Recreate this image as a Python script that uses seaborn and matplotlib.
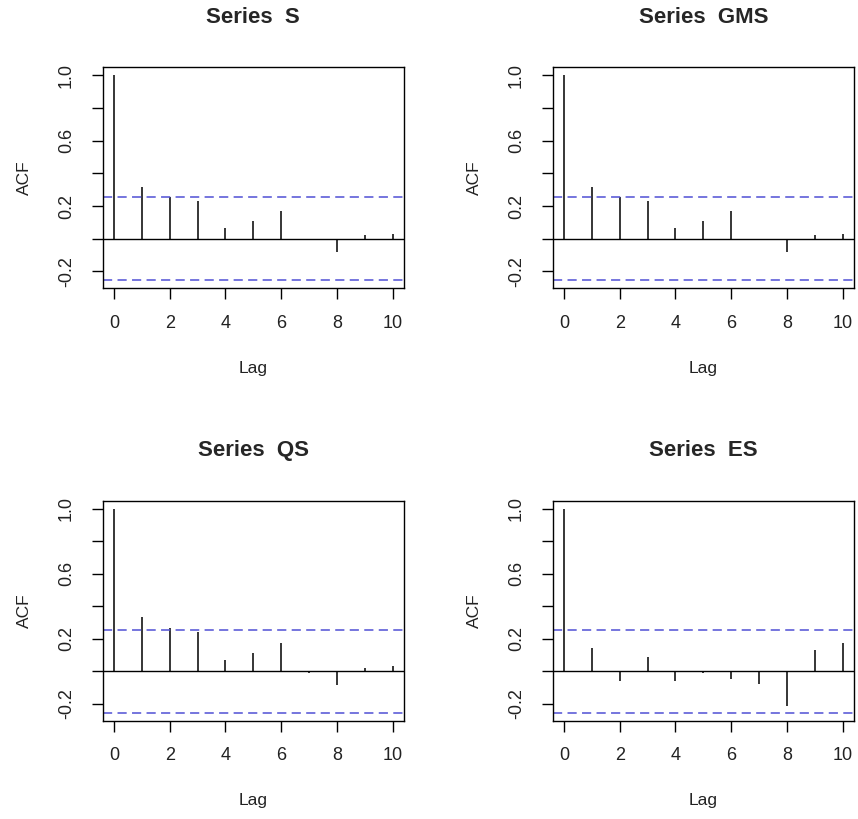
import numpy as np
import pandas as pd
import matplotlib
matplotlib.use("Agg")
import matplotlib.pyplot as plt
import seaborn as sns

# ---- data ----
lags = [0, 1, 2, 3, 4, 5, 6, 7, 8, 9, 10]
acf_S = [1.0, 0.320, 0.258, 0.233, 0.067, 0.110, 0.170, -0.008, -0.079, 0.022, 0.030]
acf_GMS = [1.0, 0.320, 0.258, 0.233, 0.067, 0.110, 0.170, -0.008, -0.079, 0.022, 0.030]
acf_QS = [1.0, 0.335, 0.268, 0.242, 0.073, 0.114, 0.177, -0.010, -0.081, 0.018, 0.035]
acf_ES = [1.0, 0.142, -0.057, 0.089, -0.057, -0.010, -0.049, -0.079, -0.215, 0.130, 0.177]
series_names = ["S", "GMS", "QS", "ES"]
conf_limit = 0.253
xticks = [0, 2, 4, 6, 8, 10]
yticks = [-0.2, 0.0, 0.2, 0.4, 0.6, 0.8, 1.0]
ytick_labels = ["-0.2", "", "0.2", "", "0.6", "", "1.0"]

series_values = {"S": acf_S, "GMS": acf_GMS, "QS": acf_QS, "ES": acf_ES}

sns.set_theme(style="white")
plt.rcParams["font.family"] = ["Liberation Sans", "DejaVu Sans"]

fig = plt.figure(figsize=(8.58, 8.19), dpi=100)
W, H = 858.0, 819.0
# (left, top, right, bottom) in pixels
boxes = {
    "S": (102.7, 67.3, 404.0, 288.3),
    "GMS": (552.7, 67.3, 854.0, 288.3),
    "QS": (102.7, 500.7, 404.0, 720.7),
    "ES": (552.7, 500.7, 854.0, 720.7),
}

blue = "#5050d4"
for name in series_names:
    l, t, r, b = boxes[name]
    ax = fig.add_axes([l / W, 1 - b / H, (r - l) / W, (b - t) / H])
    df = pd.DataFrame({"Lag": lags, "ACF": series_values[name]})
    ax.vlines(df["Lag"], 0, df["ACF"], color="black", lw=1.1)
    ax.axhline(0, color="black", lw=1.0)
    ax.axhline(conf_limit, color=blue, lw=1.1, ls=(0, (6, 3.5)))
    ax.axhline(-conf_limit, color=blue, lw=1.1, ls=(0, (6, 3.5)))
    lo = min(-conf_limit, min(df["ACF"]))
    hi = max(conf_limit, max(df["ACF"]))
    pad = 0.04 * (hi - lo)
    ax.set_ylim(lo - pad, hi + pad)
    xpad = 0.04 * (max(lags) - min(lags))
    ax.set_xlim(min(lags) - xpad, max(lags) + xpad)
    ax.set_xticks(xticks)
    ax.set_xticklabels([str(v) for v in xticks], fontsize=13)
    ax.set_yticks(yticks)
    ax.set_yticklabels(ytick_labels, fontsize=13, rotation=90, va="center")
    ax.tick_params(axis="both", direction="out", length=8, width=1.0,
                   color="black", labelcolor="#222222", bottom=True, left=True)
    ax.tick_params(axis="x", pad=11)
    ax.tick_params(axis="y", pad=12)
    for sp in ax.spines.values():
        sp.set_color("black")
        sp.set_linewidth(1.0)
    ax.set_xlabel("Lag", fontsize=12.5, labelpad=21, color="#222222")
    ax.set_ylabel("ACF", fontsize=12.5, labelpad=19, color="#222222")
    ax.set_title(f"Series  {name}", fontsize=16, fontweight="bold", pad=32)
    ax.grid(False)

fig.savefig("out.png", dpi=100, facecolor="white")
